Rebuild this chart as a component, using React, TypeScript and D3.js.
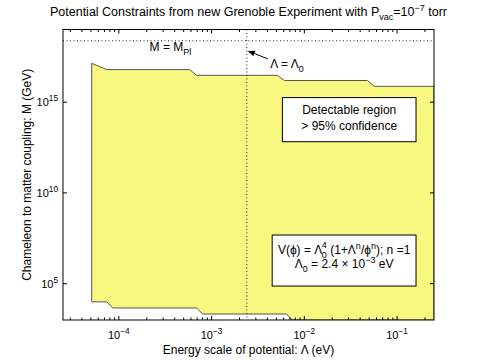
import React from "react";
import * as d3 from "d3";

// boundary of the detectable region (Lambda in eV, M in GeV)
const upperLambda = [5.1e-5, 7.4e-5, 5.8e-4, 6.9e-4, 5.1e-3, 6.1e-3, 4.8e-2, 5.7e-2, 0.25];
const upperM = [1.38e17, 6.2e16, 6.2e16, 3.0e16, 3.0e16, 1.55e16, 1.55e16, 7.4e15, 7.4e15];
const lowerLambda = [5.1e-5, 7.4e-5, 8.6e-5, 6.9e-4, 8.0e-4, 6.4e-3, 7.4e-3, 0.25];
const lowerM = [1.0e4, 1.0e4, 4.6e3, 4.6e3, 2.14e3, 2.14e3, 1.0e3, 1.0e3];

const xTickExps = [-4, -3, -2, -1];
const yTickExps = [5, 10, 15];

const lambda0 = 2.4e-3;
const mPlanck = 2.4e18;

const W = 480;
const H = 361;
const left = 63;
const right = 434;
const top = 29.5;
const bottom = 320;

const font = "'Liberation Sans', Arial, Helvetica, sans-serif";

const Pow10 = ({ x, y, exp, anchor, size }) => (
    <text x={x} y={y} textAnchor={anchor} fontSize={size} fontFamily={font} fill="#000">
        10
        <tspan dy={-5} fontSize={size * 0.75}>{exp < 0 ? `\u2212${-exp}` : exp}</tspan>
    </text>
);

const App = () => {
    const x = d3.scaleLog().domain([2.5e-5, 0.25]).range([left, right]);
    const y = d3.scaleLog().domain([1e3, 1e19]).range([bottom, top]);

    // polygon of the detectable region
    const pts = [
        ...upperLambda.map((l, i) => [x(l), y(upperM[i])]),
        ...lowerLambda.map((l, i) => [x(l), y(lowerM[i])]).reverse(),
    ];
    const regionPath = d3.line()(pts) + "Z";

    // minor x ticks
    const minor = [];
    for (let e = -5; e <= 0; e++) {
        for (let k = 2; k <= 9; k++) {
            const v = k * Math.pow(10, e);
            if (v > 2.5e-5 && v < 0.25) minor.push(v);
        }
    }

    const xl0 = x(lambda0);
    const yPl = y(mPlanck);

    // arrow from label to the Lambda0 line
    const tip = [x(lambda0) + 1, y(Math.pow(10, 17.82))];
    const tail = [x(4.05e-3), y(Math.pow(10, 17.38))];
    const ang = Math.atan2(tail[1] - tip[1], tail[0] - tip[0]);
    const hl = 7;
    const hw = 3;
    const head = [
        tip,
        [tip[0] + hl * Math.cos(ang) - hw * Math.sin(ang), tip[1] + hl * Math.sin(ang) + hw * Math.cos(ang)],
        [tip[0] + hl * Math.cos(ang) + hw * Math.sin(ang), tip[1] + hl * Math.sin(ang) - hw * Math.cos(ang)],
    ];

    const tickLen = 4;
    const minorLen = 2.5;

    return (
        <svg width={W} height={H} style={{ position: "absolute", left: 0, top: 0, background: "#fff" }}>
            <defs>
                <clipPath id="plotClip">
                    <rect x={left} y={top} width={right - left} height={bottom - top} />
                </clipPath>
            </defs>

            {/* title */}
            <text x={(left + right) / 2} y={16} textAnchor="middle" fontSize={12.5} fontFamily={font}>
                Potential Constraints from new Grenoble Experiment with P
                <tspan dy={4} fontSize={9}>vac</tspan>
                <tspan dy={-4}>=10</tspan>
                <tspan dy={-5} fontSize={9}>{"\u22127"}</tspan>
                <tspan dy={5}> torr</tspan>
            </text>

            {/* detectable region */}
            <g clipPath="url(#plotClip)">
                <path d={regionPath} fill="#f8f880" stroke="#555" strokeWidth={1} />
                {/* dotted reference lines */}
                <line x1={left} x2={right} y1={yPl} y2={yPl} stroke="#222" strokeWidth={1} strokeDasharray="1,2.5" />
                <line x1={xl0} x2={xl0} y1={top} y2={bottom} stroke="#222" strokeWidth={1} strokeDasharray="1,2.5" />
            </g>

            {/* annotations */}
            <text x={x(3.6e-4)} y={y(Math.pow(10, 17.8))} textAnchor="middle" fontSize={12} fontFamily={font}>
                M = M<tspan dy={4} fontSize={9}>Pl</tspan>
            </text>
            <line x1={tail[0]} y1={tail[1]} x2={head[1][0] / 2 + head[2][0] / 2} y2={head[1][1] / 2 + head[2][1] / 2} stroke="#000" strokeWidth={1} />
            <polygon points={head.map((p) => p.join(",")).join(" ")} fill="#000" />
            <text x={x(4.3e-3)} y={y(Math.pow(10, 16.9))} fontSize={12} fontFamily={font}>
                {"\u039B = \u039B"}<tspan dy={4} fontSize={9}>0</tspan>
            </text>

            {/* legend boxes */}
            <g fontFamily={font} fontSize={12} textAnchor="middle">
                <rect x={x(5.8e-3)} y={y(Math.pow(10, 15.25))} width={x(0.16) - x(5.8e-3)} height={y(Math.pow(10, 12.82)) - y(Math.pow(10, 15.25))} fill="#fff" stroke="#000" strokeWidth={1} />
                <text x={(x(5.8e-3) + x(0.16)) / 2} y={y(Math.pow(10, 14.33))}>Detectable region</text>
                <text x={(x(5.8e-3) + x(0.16)) / 2} y={y(Math.pow(10, 13.44))}>&gt; 95% confidence</text>

                <rect x={x(4.5e-3)} y={y(Math.pow(10, 7.68))} width={x(0.16) - x(4.5e-3)} height={y(Math.pow(10, 4.87)) - y(Math.pow(10, 7.68))} fill="#fff" stroke="#000" strokeWidth={1} />
                <text x={(x(4.5e-3) + x(0.16)) / 2} y={y(Math.pow(10, 6.62))}>
                    {"V(\u03D5) = \u039B"}
                    <tspan dy={4} dx={-0.5} fontSize={9}>0</tspan>
                    <tspan dy={-10} dx={-5} fontSize={9}>4</tspan>
                    <tspan dy={6}>{" (1+\u039B"}</tspan>
                    <tspan dy={-5} fontSize={9}>n</tspan>
                    <tspan dy={5}>{"/\u03D5"}</tspan>
                    <tspan dy={-5} fontSize={9}>n</tspan>
                    <tspan dy={5}>); n =1</tspan>
                </text>
                <text x={(x(4.5e-3) + x(0.16)) / 2} y={y(Math.pow(10, 5.85))}>
                    {"\u039B"}
                    <tspan dy={4} fontSize={9}>0</tspan>
                    <tspan dy={-4}>{" = 2.4 \u00D7 10"}</tspan>
                    <tspan dy={-5} fontSize={9}>{"\u22123"}</tspan>
                    <tspan dy={5}> eV</tspan>
                </text>
            </g>

            {/* axes box */}
            <rect x={left} y={top} width={right - left} height={bottom - top} fill="none" stroke="#000" strokeWidth={1} />

            {/* x ticks */}
            {xTickExps.map((e) => {
                const px = x(Math.pow(10, e));
                return (
                    <g key={`xt${e}`}>
                        <line x1={px} x2={px} y1={bottom} y2={bottom - tickLen} stroke="#000" />
                        <line x1={px} x2={px} y1={top} y2={top + tickLen} stroke="#000" />
                        <Pow10 x={px} y={339} exp={e} anchor="middle" size={11} />
                    </g>
                );
            })}
            {minor.map((v, i) => (
                <g key={`xm${i}`}>
                    <line x1={x(v)} x2={x(v)} y1={bottom} y2={bottom - minorLen} stroke="#000" />
                    <line x1={x(v)} x2={x(v)} y1={top} y2={top + minorLen} stroke="#000" />
                </g>
            ))}

            {/* y ticks */}
            {yTickExps.map((e) => {
                const py = y(Math.pow(10, e));
                return (
                    <g key={`yt${e}`}>
                        <line x1={left} x2={left + tickLen} y1={py} y2={py} stroke="#000" />
                        <line x1={right} x2={right - tickLen} y1={py} y2={py} stroke="#000" />
                        <Pow10 x={58} y={py + 4} exp={e} anchor="end" size={11} />
                    </g>
                );
            })}

            {/* axis labels */}
            <text x={(left + right) / 2} y={354} textAnchor="middle" fontSize={12} fontFamily={font}>
                {"Energy scale of potential: \u039B (eV)"}
            </text>
            <text transform={`translate(31,${(top + bottom) / 2}) rotate(-90)`} textAnchor="middle" fontSize={12} fontFamily={font}>
                Chameleon to matter coupling: M (GeV)
            </text>
        </svg>
    );
};

export default App;
